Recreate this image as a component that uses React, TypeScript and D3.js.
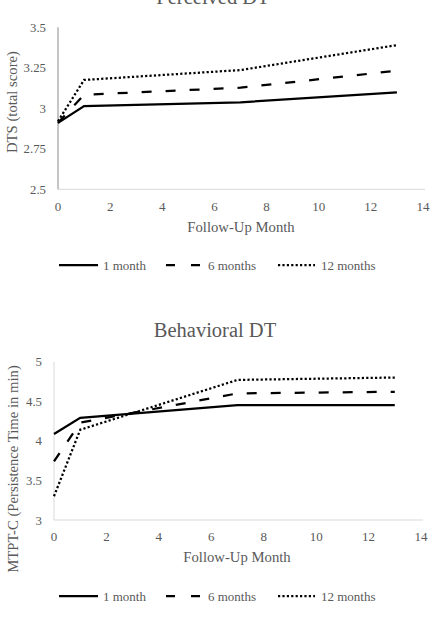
import React from 'react';
import * as d3 from 'd3';

// follow-up months where each group was measured
const months = [0, 1, 7, 13];

const seriesNames = ['1 month', '6 months', '12 months'];

// Perceived DT (DTS total score)
const perceived1 = [2.91, 3.014, 3.037, 3.099];
const perceived6 = [2.91, 3.084, 3.127, 3.232];
const perceived12 = [2.92, 3.175, 3.236, 3.39];
const perceivedTicks = [2.5, 2.75, 3, 3.25, 3.5];

// Behavioral DT (MTPT-C persistence time in min)
const behavioral1 = [4.087, 4.29, 4.45, 4.45];
const behavioral6 = [3.74, 4.23, 4.6, 4.62];
const behavioral12 = [3.3, 4.14, 4.77, 4.8];
const behavioralTicks = [3, 3.5, 4, 4.5, 5];

const xTicks = [0, 2, 4, 6, 8, 10, 12, 14];

const FONT = '"Liberation Serif", "Times New Roman", serif';
const TEXT = '#595959';
const dashes = ['none', '10,14', '2.2,2.2'];

const LineChart = ({ title, yLabel, series, yTicks, box }) => {
    const x = d3.scaleLinear().domain([0, 14]).range([box.left, box.right]);
    const y = d3
        .scaleLinear()
        .domain([yTicks[0], yTicks[yTicks.length - 1]])
        .range([box.bottom, box.top]);
    const line = d3
        .line()
        .x((d, i) => x(months[i]))
        .y(d => y(d));
    const fmt = v => String(v);
    const legendItems = [
        { x1: 59, x2: 98, tx: 103 },
        { x1: 166, x2: 200, tx: 208 },
        { x1: 278, x2: 315, tx: 321 },
    ];

    return (
        <g fontFamily={FONT} fill={TEXT}>
            <text x={box.titleX} y={box.titleY} textAnchor="middle" fontSize={20.5}>
                {title}
            </text>
            {yTicks.map(t => (
                <text key={t} x={box.left - 12} y={y(t) + 4.5} textAnchor="end" fontSize={12.8}>
                    {fmt(t)}
                </text>
            ))}
            {xTicks.map(t => (
                <text key={t} x={x(t)} y={box.xTickY} textAnchor="middle" fontSize={13}>
                    {t}
                </text>
            ))}
            <line x1={box.left} x2={box.right + 2} y1={box.bottom} y2={box.bottom} stroke="#d9d9d9" strokeWidth={1} />
            <line x1={box.left} x2={box.left} y1={box.top} y2={box.bottom} stroke={box.yAxisColor} strokeWidth={1} />
            <text
                transform={`translate(${box.yLabelX},${box.yLabelY}) rotate(-90)`}
                textAnchor="middle"
                fontSize={14.7}
            >
                {yLabel}
            </text>
            <text x={box.xLabelX} y={box.xLabelY} textAnchor="middle" fontSize={14.7}>
                Follow-Up Month
            </text>
            {series.map((s, i) => (
                <path
                    key={i}
                    d={line(s)}
                    fill="none"
                    stroke="#000"
                    strokeWidth={2.25}
                    strokeDasharray={dashes[i]}
                />
            ))}
            {legendItems.map((l, i) => (
                <g key={i}>
                    <line
                        x1={l.x1}
                        x2={l.x2}
                        y1={box.legendY}
                        y2={box.legendY}
                        stroke="#000"
                        strokeWidth={2.25}
                        strokeDasharray={i === 1 ? '9,16' : dashes[i]}
                    />
                    <text x={l.tx} y={box.legendY + 4.5} fontSize={13}>
                        {seriesNames[i]}
                    </text>
                </g>
            ))}
        </g>
    );
};

const App = () => (
    <svg
        width={437}
        height={619}
        style={{ position: 'absolute', left: 0, top: 0, background: '#fff' }}
    >
        <LineChart
            title="Perceived DT"
            yLabel="DTS (total score)"
            series={[perceived1, perceived6, perceived12]}
            yTicks={perceivedTicks}
            box={{
                left: 58,
                right: 423,
                top: 27.3,
                bottom: 189.3,
                titleX: 213,
                titleY: 3.5,
                xTickY: 210.5,
                xLabelX: 241,
                xLabelY: 231.5,
                yLabelX: 17,
                yLabelY: 102,
                legendY: 265,
                yAxisColor: '#8c8c8c',
            }}
        />
        <LineChart
            title="Behavioral DT"
            yLabel="MTPT-C (Persistence Time in min)"
            series={[behavioral1, behavioral6, behavioral12]}
            yTicks={behavioralTicks}
            box={{
                left: 54,
                right: 421,
                top: 361.7,
                bottom: 520,
                titleX: 215,
                titleY: 337,
                xTickY: 541,
                xLabelX: 237,
                xLabelY: 562,
                yLabelX: 18,
                yLabelY: 469,
                legendY: 596,
                yAxisColor: '#d9d9d9',
            }}
        />
    </svg>
);

export default App;
